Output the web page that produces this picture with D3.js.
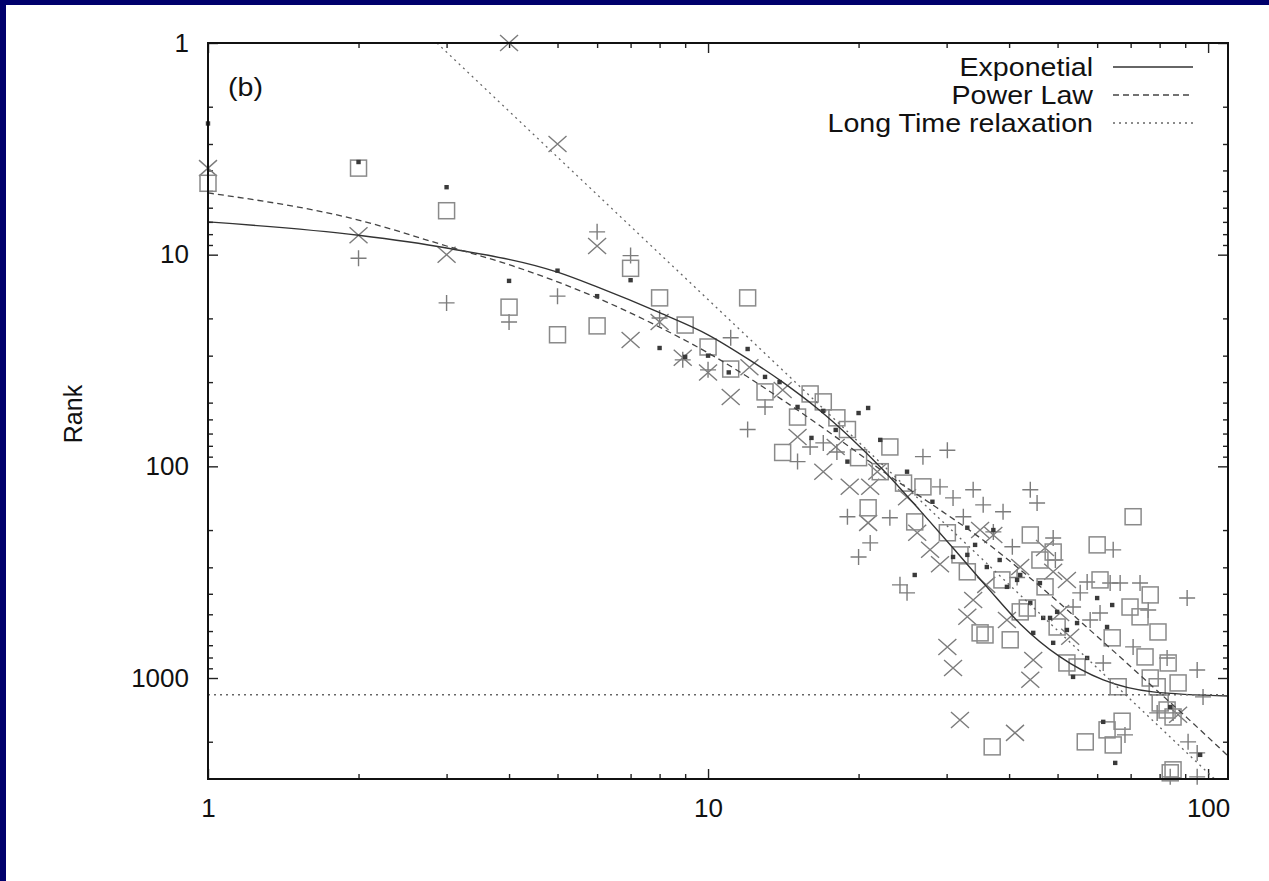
<!DOCTYPE html>
<html>
<head>
<meta charset="utf-8">
<script src="https://cdn.jsdelivr.net/npm/d3@7"></script>
<style>
  html, body { margin: 0; padding: 0; background: #fff; }
  svg { display: block; }
  text { font-family: "Liberation Sans", Arial, Helvetica, sans-serif; fill: #111; }
</style>
</head>
<body>
<svg id="chart" width="1269" height="881"></svg>
<script>
// axis ticks
const xMajor = [1, 10, 100];
const xMinor = [2, 3, 4, 5, 6, 7, 8, 9, 20, 30, 40, 50, 60, 70, 80, 90];
const yMajor = [1, 10, 100, 1000];
const yMinor = [2, 3, 4, 5, 6, 7, 8, 9, 20, 30, 40, 50, 60, 70, 80, 90,
  200, 300, 400, 500, 600, 700, 800, 900, 2000];

const xDomain = [1, 109.6];
const yDomain = [1, 3000];

const yTitle = "Rank";
const panelTag = "(b)";
const legendNames = ["Exponetial", "Power Law", "Long Time relaxation"];

// data points [x, rank]
const squarePts = [
  [1, 4.6], [2, 3.9], [3, 6.2], [4, 17.7], [5, 23.9], [6, 21.7], [7, 11.6], [8, 16], [9, 21.5], [10, 27.3],
  [11.1, 34.7], [12, 16], [13, 44.5], [14.1, 86], [15.1, 58.5], [16, 45.5], [17, 49.6], [18.1, 59], [19, 67], [20, 91],
  [22.1, 106], [23.1, 81], [24.6, 120], [26.9, 125], [20.9, 157], [25.9, 183], [30.1, 206], [31.9, 262], [33, 315],
  [35, 612], [35.8, 626], [40.2, 660], [44.1, 211], [49, 254], [46.1, 277], [38.7, 344], [42.1, 487], [43.5, 467],
  [47.2, 371], [49.9, 574], [52.2, 849], [54.7, 887], [60, 235], [60.8, 344], [64.3, 646], [70.8, 173], [69.8, 462],
  [73.1, 514], [76.6, 405], [79.4, 606], [74.8, 795], [83.2, 849], [66.1, 1100], [76.6, 1000], [79.1, 1100],
  [87.1, 1055], [67.3, 1600], [84, 2805], [85.1, 2716], [37, 2115], [56.8, 2003], [62.8, 1758], [64.6, 2071],
  [80.2, 1312], [82.8, 1416], [85.1, 1528]
];
const crossPts = [
  [1, 3.9], [2, 8.1], [3, 10], [4, 1.0], [5, 3.0], [6, 9.1], [7, 25.3], [8, 20.8], [8.9, 30.7], [10, 36],
  [11.1, 47], [12.1, 34], [14.1, 43.6], [15.1, 72.6], [17, 106], [18, 81], [19.2, 125], [21.8, 106], [20.9, 185],
  [21.1, 125], [25, 140], [26.2, 206], [27.8, 248], [29.1, 290], [33.9, 428], [33, 514], [30.1, 713], [30.9, 896],
  [44.7, 822], [44.1, 1020], [42.1, 299], [35, 200], [37.2, 211], [49, 315], [52.2, 344], [50.6, 493], [53, 639],
  [39.6, 532], [31.9, 1578], [41.1, 1816], [47.2, 243], [87.1, 1490], [36, 363]
];
const plusPts = [
  [2, 10.4], [3, 16.9], [4, 20.8], [5, 15.7], [6, 7.8], [7, 10.1], [8, 19.9], [8.9, 31.4], [10, 35], [11.1, 24.7],
  [13, 52.4], [12, 67], [15.1, 95], [16, 81], [17, 77.5], [18.1, 85.5], [26.9, 90], [30.1, 84], [29.1, 125],
  [33.9, 129], [19, 173], [21.1, 230], [20, 268], [23.1, 175], [24.2, 363], [25, 396], [30.9, 141], [35.5, 152],
  [38.9, 164], [32.4, 173], [44.1, 129], [45.5, 149], [49, 218], [40.6, 240], [37.2, 204], [64.6, 248], [55.5, 396],
  [57.3, 352], [63.7, 356], [66.7, 356], [73.1, 356], [75.9, 477], [90.8, 419], [70.8, 713], [82.8, 804],
  [95.1, 916], [97.7, 1228], [61.7, 849], [60.8, 493], [58.1, 532], [53.7, 462], [68.2, 1857], [79.1, 1462],
  [85.1, 1462], [91.2, 2003], [95.1, 2258], [95.1, 2931], [84, 2931], [49.5, 277], [41.5, 335]
];
const dotPts = [
  [1, 2.4], [2, 3.65], [3, 4.8], [4, 13.3], [5, 11.9], [6, 15.7], [7, 13.2], [8, 27.6], [9, 30.4], [10, 30],
  [11, 36], [12, 27.9], [13, 37.8], [13.9, 40], [15.1, 52.4], [16.1, 73.4], [17, 54.7], [18, 67.3], [19, 95],
  [20, 56], [20.9, 53], [22.1, 75], [25, 106], [28.1, 147], [33, 195], [37.2, 200], [36.1, 299], [39.6, 371],
  [41.5, 344], [33, 262], [30.9, 268], [25.9, 326], [44.1, 442], [46.1, 356], [48.3, 520], [49.9, 487],
  [52.2, 593], [54.7, 550], [60, 419], [64.3, 452], [62.8, 574], [57.3, 804], [53.7, 988], [49, 682],
  [44.7, 612], [46.8, 520], [61.7, 1611], [65.2, 2518], [84, 1371], [96.4, 2307], [34.2, 235], [38.3, 277],
  [42.1, 326]
];

// fitted curves
const expCurve = [
  [1, 7.0], [2, 8.1], [3, 9.3], [5, 12.1], [6, 14.2], [8, 18.8], [10, 23.9], [12.1, 31.4], [14.1, 40],
  [16.5, 53], [19.2, 72.6], [22.4, 104], [26.5, 161], [30.9, 243], [36.1, 371], [42.1, 555], [50.6, 795],
  [61.7, 1021], [77.6, 1163], [109.6, 1216]
];
const powCurve = [
  [1, 5.11], [2, 6.86], [3, 9.1], [4.07, 11.3], [6, 16.0], [8, 22.0], [10.4, 30.7], [14.1, 48.6], [19.2, 81],
  [22.8, 109], [28.7, 157], [36.1, 230], [45.5, 359], [61.7, 675], [77.6, 1102], [90.8, 1543], [109.6, 2333]
];
const longCurve = [[2.87, 1], [10, 16.3], [103, 3000]];
const plateauRank = 1200;

const svg = d3.select("#chart");

// navy frame of the slide
svg.append("rect").attr("x", 0).attr("y", 0).attr("width", 1269).attr("height", 5).attr("fill", "#00006c");
svg.append("rect").attr("x", 0).attr("y", 0).attr("width", 6).attr("height", 881).attr("fill", "#00006c");

const x = d3.scaleLog().domain(xDomain).range([208, 1228]);
const y = d3.scaleLog().domain(yDomain).range([43, 779]);

// TICKS
const tickStyle = g => {
  g.select(".domain").remove();
  g.selectAll("line").attr("stroke", "#222").attr("stroke-width", 1.4);
  g.selectAll("text").attr("font-size", "26px").attr("fill", "#111")
    .attr("font-family", "'Liberation Sans', Arial, sans-serif");
};

svg.append("g").attr("transform", "translate(0,779)")
  .call(d3.axisBottom(x).tickValues(xMajor).tickSizeInner(-10).tickSizeOuter(0).tickPadding(20).tickFormat(d3.format("d")))
  .call(tickStyle);
svg.append("g").attr("transform", "translate(0,779)")
  .call(d3.axisBottom(x).tickValues(xMinor).tickSizeInner(-5).tickSizeOuter(0).tickFormat(""))
  .call(tickStyle);
svg.append("g").attr("transform", "translate(0,43)")
  .call(d3.axisTop(x).tickValues(xMajor).tickSizeInner(-10).tickSizeOuter(0).tickFormat(""))
  .call(tickStyle);
svg.append("g").attr("transform", "translate(0,43)")
  .call(d3.axisTop(x).tickValues(xMinor).tickSizeInner(-5).tickSizeOuter(0).tickFormat(""))
  .call(tickStyle);

svg.append("g").attr("transform", "translate(208,0)")
  .call(d3.axisLeft(y).tickValues(yMajor).tickSizeInner(-10).tickSizeOuter(0).tickPadding(19).tickFormat(d3.format("d")))
  .call(tickStyle);
svg.append("g").attr("transform", "translate(208,0)")
  .call(d3.axisLeft(y).tickValues(yMinor).tickSizeInner(-5).tickSizeOuter(0).tickFormat(""))
  .call(tickStyle);
svg.append("g").attr("transform", "translate(1228,0)")
  .call(d3.axisRight(y).tickValues(yMajor).tickSizeInner(-10).tickSizeOuter(0).tickFormat(""))
  .call(tickStyle);
svg.append("g").attr("transform", "translate(1228,0)")
  .call(d3.axisRight(y).tickValues(yMinor).tickSizeInner(-5).tickSizeOuter(0).tickFormat(""))
  .call(tickStyle);

// POINTS
const markGray = "#7c7c7c";
const pts = svg.append("g");

pts.selectAll("path.plus").data(plusPts).enter().append("path")
  .attr("class", "plus")
  .attr("d", "M-8,0H8M0,-8V8")
  .attr("transform", d => `translate(${x(d[0])},${y(d[1])})`)
  .attr("fill", "none").attr("stroke", markGray).attr("stroke-width", 1.4);

pts.selectAll("path.cross").data(crossPts).enter().append("path")
  .attr("class", "cross")
  .attr("d", "M-9,-8L9,8M-9,8L9,-8")
  .attr("transform", d => `translate(${x(d[0])},${y(d[1])})`)
  .attr("fill", "none").attr("stroke", markGray).attr("stroke-width", 1.4);

pts.selectAll("rect.sq").data(squarePts).enter().append("rect")
  .attr("class", "sq")
  .attr("x", d => x(d[0]) - 8).attr("y", d => y(d[1]) - 8)
  .attr("width", 16).attr("height", 16)
  .attr("fill", "none").attr("stroke", "#8a8a8a").attr("stroke-width", 1.5);

pts.selectAll("rect.dot").data(dotPts).enter().append("rect")
  .attr("class", "dot")
  .attr("x", d => x(d[0]) - 2.2).attr("y", d => y(d[1]) - 2.2)
  .attr("width", 4.4).attr("height", 4.4)
  .attr("fill", "#3a3a3a");

// FIT LINES
svg.append("clipPath").attr("id", "plotClip")
  .append("rect").attr("x", 208).attr("y", 43).attr("width", 1020).attr("height", 736);

const line = d3.line().x(d => x(d[0])).y(d => y(d[1])).curve(d3.curveMonotoneX);
const lines = svg.append("g").attr("clip-path", "url(#plotClip)").attr("fill", "none");

const lineStyles = [
  { color: "#333", dash: null },
  { color: "#444", dash: "6,4" },
  { color: "#666", dash: "2,4" }
];

lines.append("path").attr("d", line(expCurve))
  .attr("stroke", lineStyles[0].color).attr("stroke-width", 1.4);
lines.append("path").attr("d", line(powCurve))
  .attr("stroke", lineStyles[1].color).attr("stroke-width", 1.3).attr("stroke-dasharray", lineStyles[1].dash);
lines.append("path").attr("d", d3.line().x(d => x(d[0])).y(d => y(d[1]))(longCurve))
  .attr("stroke", lineStyles[2].color).attr("stroke-width", 1.3).attr("stroke-dasharray", lineStyles[2].dash);
lines.append("path").attr("d", d3.line().x(d => x(d[0])).y(d => y(d[1]))([[xDomain[0], plateauRank], [xDomain[1], plateauRank]]))
  .attr("stroke", lineStyles[2].color).attr("stroke-width", 1.3).attr("stroke-dasharray", lineStyles[2].dash);

// FRAME
svg.append("rect").attr("x", 208).attr("y", 43).attr("width", 1020).attr("height", 736)
  .attr("fill", "none").attr("stroke", "#111").attr("stroke-width", 2);

// LEGEND
const legend = svg.append("g");
legendNames.forEach((name, i) => {
  const ly = 67 + i * 28;
  legend.append("text")
    .attr("transform", `translate(1093,${ly + 9}) scale(1.1,1)`)
    .attr("text-anchor", "end")
    .attr("font-size", "26px")
    .text(name);
  const seg = legend.append("line")
    .attr("x1", 1113).attr("x2", 1193).attr("y1", ly).attr("y2", ly)
    .attr("stroke", lineStyles[i].color).attr("stroke-width", 1.4);
  if (lineStyles[i].dash) seg.attr("stroke-dasharray", lineStyles[i].dash);
});

// LABELS
svg.append("text")
  .attr("transform", "translate(228,96) scale(1.1,1)")
  .attr("font-size", "26px")
  .text(panelTag);

svg.append("text")
  .attr("transform", "translate(82,414) rotate(-90)")
  .attr("text-anchor", "middle")
  .attr("font-size", "25px")
  .text(yTitle);
</script>
</body>
</html>
